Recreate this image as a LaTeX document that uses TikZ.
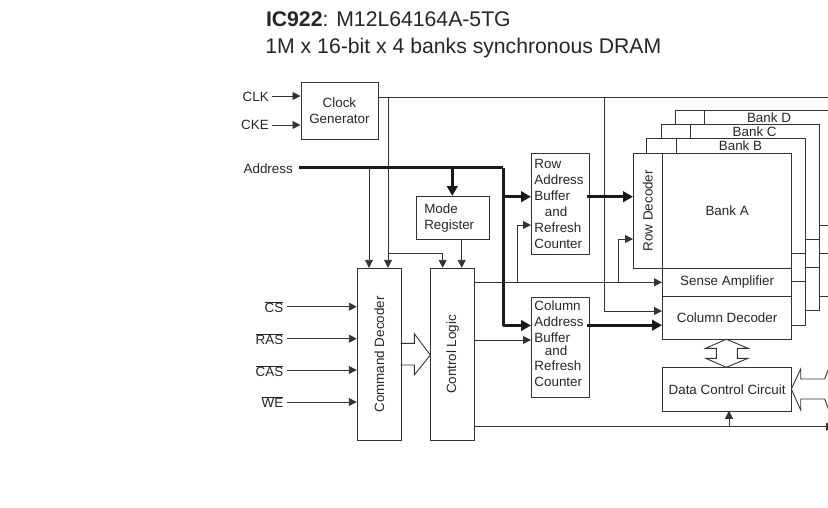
\documentclass[tikz,border=0pt]{standalone}
\usepackage{fontspec}
\setmainfont{Liberation Sans}
\usepackage{tikz}
\usetikzlibrary{positioning,arrows.meta}

\begin{document}
\begin{tikzpicture}[x=1pt,y=-1pt,
  box/.style={draw=black!80, line width=0.9pt, inner sep=0pt, font=\fontsize{13.4}{16}\selectfont, text=black!85, align=center, anchor=north west},
  lab/.style={inner sep=0pt, font=\fontsize{13.4}{16}\selectfont, text=black!85, align=left},
  wire/.style={draw=black!80, line width=0.9pt},
  arr/.style={wire, -{Triangle[length=8pt,width=8pt]}},
  bus/.style={draw=black!90, line width=3pt, line join=round, -{Triangle[length=10pt,width=10.5pt]}},
  fat/.style={draw=black!80, line width=0.9pt, line join=miter},
  titletext/.style={inner sep=0pt, anchor=base west, font=\fontsize{21.2}{25}\selectfont, text=black!85}
]
\useasboundingbox (0,0) rectangle (828,507);
\clip (0,0) rectangle (828,507);
% title
\node[titletext] (title1) at (265.8,26.7) {\textbf{IC922}: M12L64164A-5TG};
\node[titletext] (title2) at (265.2,53.3) {1M x 16-bit x 4 banks synchronous DRAM};
% banks behind bank A
\draw[wire] (675.3,124) -- (675.3,110) -- (828,110);
\draw[wire] (704.3,110) -- (704.3,124);
\draw[wire] (661,138.3) -- (661,124) -- (819.7,124) -- (819.7,310.7) -- (805.3,310.7);
\draw[wire] (690.3,124) -- (690.3,138.3);
\draw[wire] (646.7,152.7) -- (646.7,138.3) -- (805.3,138.3) -- (805.3,325) -- (791.3,325);
\draw[wire] (676,138.3) -- (676,152.7);
\draw[wire] (805.3,239.3) -- (819.7,239.3);
\draw[wire] (791.3,253.5) -- (805.3,253.5);
\draw[wire] (805.3,267.3) -- (819.7,267.3);
\draw[wire] (791.3,281.5) -- (805.3,281.5);
\draw[wire] (819.7,225.5) -- (828,225.5);
\draw[wire] (819.7,253.5) -- (828,253.5);
\draw[wire] (819.7,296.3) -- (828,296.3);
\node[lab] (bankd) at (769,117.3) {Bank D};
\node[lab] (bankc) at (754.7,131.3) {Bank C};
\node[lab] (bankb) at (740.5,145.3) {Bank B};
% blocks
\node[box, minimum width=77pt, minimum height=57.5pt] (clock) at (300.5,81.8) {Clock\\Generator};
\node[box, minimum width=72.7pt, minimum height=43.3pt, text width=57pt, align=left] (mode) at (416,196) {Mode\\Register};
\node[box, minimum width=44pt, minimum height=172.5pt] (cmd) at (356.8,267.8) {\rotatebox{90}{Command Decoder}};
\node[box, minimum width=44pt, minimum height=172.5pt] (ctrl) at (430.3,267.8) {\rotatebox{90}{Control Logic}};
\node[box, minimum width=58pt, minimum height=101pt, text width=52pt, align=left] (rowbuf) at (531,152.7) {Row\\Address\\Buffer\\\hspace{10.5pt}and\\Refresh\\Counter};
\node[box, minimum width=58pt, minimum height=100.6pt, text width=52pt, align=left] (colbuf) at (531,296.7) {Column\\Address\\Buffer\\[-3pt]\hspace{10.5pt}and\\[-1pt]Refresh\\Counter\\[-9pt]\mbox{}};
\node[box, minimum width=29pt, minimum height=115pt] (rowdec) at (633,152.7) {\rotatebox{90}{Row Decoder}};
\node[box, minimum width=129.3pt, minimum height=115pt] (banka) at (662,152.7) {Bank A};
\node[box, minimum width=129.3pt, minimum height=28pt] (sense) at (662,267.7) {Sense Amplifier};
\node[box, minimum width=129.3pt, minimum height=43.5pt] (coldec) at (662,295.7) {Column Decoder};
\node[box, minimum width=129.3pt, minimum height=43.5pt] (data) at (662,367.3) {Data Control Circuit};
% input labels
\node[lab, anchor=east] (clk) at (269,96.7) {CLK};
\node[lab, anchor=east] (cke) at (269,125) {CKE};
\node[lab, anchor=east] (addr) at (293,169) {Address};
\node[lab, anchor=east] (cs) at (283.5,307) {$\overline{\mbox{CS}}$};
\node[lab, anchor=east] (ras) at (283.5,339) {$\overline{\mbox{RAS}}$};
\node[lab, anchor=east] (cas) at (283.5,371) {$\overline{\mbox{CAS}}$};
\node[lab, anchor=east] (we) at (283.5,402) {$\overline{\mbox{WE}}$};
\draw[arr] (272,96) -- (clock.west |- 0,96);
\draw[arr] (272,125) -- (clock.west |- 0,125);
\draw[arr] (287,306.7) -- (cmd.west |- 0,306.7);
\draw[arr] (287,338.7) -- (cmd.west |- 0,338.7);
\draw[arr] (287,370) -- (cmd.west |- 0,370);
\draw[arr] (287,402) -- (cmd.west |- 0,402);
% clock lines
\coordinate (clkend) at (828,97);
\draw[wire] (clock.east |- clkend) -- (clkend);
\draw[arr] (388,97) -- (388,267.8);
\draw[arr] (388,253.7) -- (442.7,253.7) -- (442.7,267.8);
\draw[arr] (604,97) -- (604,311) -- (coldec.west |- 0,311);
% address bus
\draw[bus, -] (299,167.7) -- (503.3,167.7);
\draw[bus] (503.3,167.7) -- (503.3,196.7) -- (rowbuf.west |- 0,196.7);
\draw[bus] (503.3,196.7) -- (503.3,325.5) -- (colbuf.west |- 0,325.5);
\draw[bus] (452.3,167.7) -- (452.3,196);
\draw[arr] (369,167.7) -- (369,267.8);
\draw[arr] (461.7,239.3) -- (461.7,267.8);
\draw[bus] (587,196.7) -- (rowdec.west |- 0,196.7);
\draw[bus] (587,325.2) -- (coldec.west |- 0,325.2);
% control lines
\draw[arr] (ctrl.east |- 0,282.3) -- (sense.west |- 0,282.3);
\draw[arr] (517,282.3) -- (517,225) -- (rowbuf.west |- 0,225);
\draw[arr] (618,282.3) -- (618,239) -- (rowdec.west |- 0,239);
\draw[arr] (ctrl.east |- 0,340) -- (colbuf.west |- 0,340);
\coordinate (ctrlend) at (834,426.7);
\draw[arr] (ctrl.east |- ctrlend) -- (ctrlend);
\draw[arr] (729,426.7) -- (729,410.8);
% fat arrows
\draw[fat] (400.7,343.3) -- (414.3,343.3) -- (414.3,333.7) -- (430.3,355) -- (414.3,375) -- (414.3,365) -- (400.7,365);
\draw[fat] (726.3,339.2) -- (705.7,348.3) -- (716.3,348.3) -- (716.3,358.3) -- (705.7,358.3) -- (726.3,367.3) -- (748,358.3) -- (737.3,358.3) -- (737.3,348.3) -- (748,348.3) -- cycle;
\draw[fat] (830,365) -- (824.7,379) -- (800.7,379) -- (800.7,369) -- (791.3,389) -- (800.7,410) -- (800.7,399) -- (824.7,399) -- (830,413);
\end{tikzpicture}
\end{document}
